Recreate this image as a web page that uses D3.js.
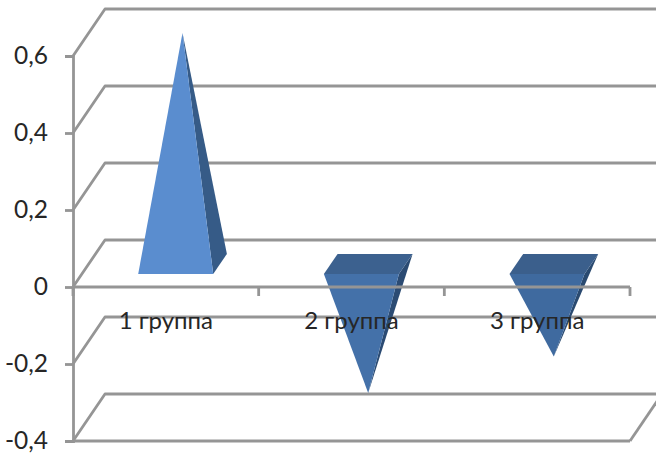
<!DOCTYPE html>
<html>
<head>
<meta charset="utf-8">
<script src="https://cdn.jsdelivr.net/npm/d3@7/dist/d3.min.js"></script>
<style>
html,body{margin:0;padding:0;background:#fff}
svg{display:block}
text{font-family:Lato,"Open Sans",sans-serif;fill:#262626}
</style>
</head>
<body>
<svg id="chart" width="656" height="455"></svg>
<script>
const categories = ["1 группа", "2 группа", "3 группа"];
const seriesValues = [0.6, -0.335, -0.24];
const tickValues = [0.6, 0.4, 0.2, 0, -0.2, -0.4];
const tickLabels = ["0,6", "0,4", "0,2", "0", "-0,2", "-0,4"];
const faceColors = {
  positive: {front: "#5a8dcf", side: "#365b87"},
  negative: [null, {front: "#4471a9", side: "#2b4b73", top: "#3c618f"},
                   {front: "#3f6a9f", side: "#2a4a70", top: "#3b5f8c"}]
};

const svg = d3.select("#chart");
const gridColor = "#959595";
const gridWidth = 2.8;

const x = d3.scaleBand().domain(categories).range([73, 630]).paddingInner(0).paddingOuter(0);
const y = d3.scaleLinear().domain([-0.4, 0.6]).range([441, 56]);
// Oblique projection of the depth axis: 0 is the front plane, 1 the back wall
const depthX = d3.scaleLinear().domain([0, 1]).range([0, 32]);
const depthY = d3.scaleLinear().domain([0, 1]).range([0, -47]);
const pyramidWidth = 75;
const depthFront = 0.277, depthBack = 0.705, depthMid = 0.49;
const pyramidShift = 1;

const pt = (cx, v, d) => [cx + depthX(d), y(v) + depthY(d)];
const poly = pts => pts.map(p => p.map(n => n.toFixed(1)).join(",")).join(" ");

// Back wall gridlines and their slanted returns on the left wall
const walls = svg.append("g").attr("fill", "none").attr("stroke", gridColor).attr("stroke-width", gridWidth);
walls.selectAll("polyline").data(tickValues).join("polyline")
  .attr("stroke-linejoin", "round")
  .attr("points", v => poly([[73, y(v)], pt(73, v, 1), pt(630, v, 1)]));
// Right edge of the floor
walls.append("line")
  .attr("x1", 630).attr("y1", y(-0.4))
  .attr("x2", pt(630, -0.4, 1)[0]).attr("y2", pt(630, -0.4, 1)[1]);
// Front edge of the floor
walls.append("line")
  .attr("x1", 73).attr("y1", y(-0.4)).attr("x2", 630).attr("y2", y(-0.4));

// Pyramids
const marks = svg.append("g");
categories.forEach((c, i) => {
  const v = seriesValues[i];
  const cx = x(c) + x.bandwidth() / 2 + pyramidShift;
  const fl = pt(cx - pyramidWidth / 2, 0, depthFront);
  const fr = pt(cx + pyramidWidth / 2, 0, depthFront);
  const br = pt(cx + pyramidWidth / 2, 0, depthBack);
  const bl = pt(cx - pyramidWidth / 2, 0, depthBack);
  const apex = pt(cx, v, depthMid);
  if (v >= 0) {
    const col = faceColors.positive;
    marks.append("polygon").attr("points", poly([fr, br, apex])).attr("fill", col.side);
    marks.append("polygon").attr("points", poly([fl, fr, apex])).attr("fill", col.front);
  } else {
    const col = faceColors.negative[i];
    marks.append("polygon").attr("points", poly([fr, br, apex])).attr("fill", col.side);
    marks.append("polygon").attr("points", poly([fl, fr, apex])).attr("fill", col.front);
    marks.append("polygon").attr("points", poly([fl, fr, br, bl])).attr("fill", col.top);
  }
});

// Value axis
const yAxis = d3.axisLeft(y)
  .tickValues(tickValues)
  .tickFormat((d, i) => tickLabels[i])
  .tickSize(8)
  .tickPadding(17);
const yG = svg.append("g").attr("transform", "translate(73,0)").call(yAxis);
yG.selectAll("path,line").attr("stroke", gridColor).attr("stroke-width", gridWidth);
yG.selectAll("text").attr("font-size", 24.5).attr("fill", "#262626");

// Category axis along the zero line, with ticks on the group boundaries
const zeroY = y(0);
const xAxis = d3.axisBottom(x).tickSize(0).tickPadding(25);
const xG = svg.append("g").attr("transform", `translate(0,${zeroY})`).call(xAxis);
xG.select(".domain").remove();
xG.selectAll("text").attr("font-size", 24).attr("fill", "#262626");
const xLine = svg.append("g").attr("stroke", gridColor).attr("stroke-width", gridWidth);
xLine.append("line").attr("x1", 73).attr("x2", 630).attr("y1", zeroY).attr("y2", zeroY);
xLine.selectAll(".boundary").data(d3.range(categories.length + 1)).join("line")
  .attr("class", "boundary")
  .attr("x1", i => 73 + i * x.step()).attr("x2", i => 73 + i * x.step())
  .attr("y1", zeroY).attr("y2", zeroY + 9);
</script>
</body>
</html>
